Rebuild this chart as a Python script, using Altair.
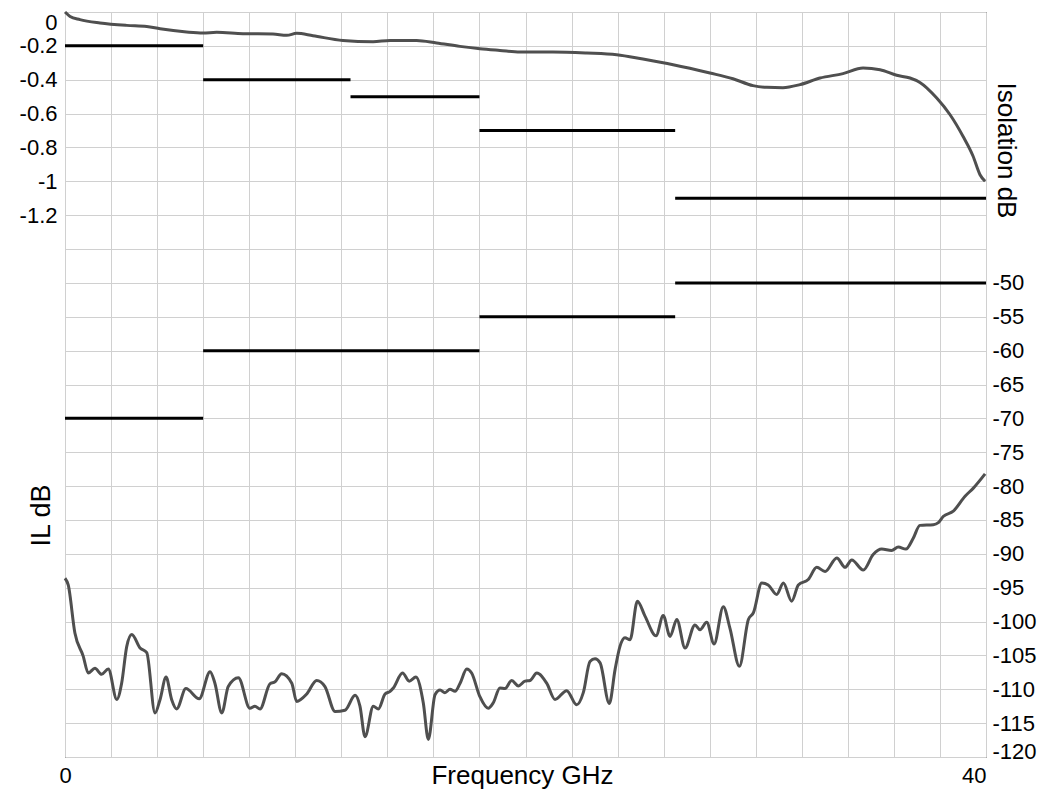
import altair as alt
import pandas as pd

# ---- Insertion loss (left axis, dB) ----
il_freq = [0.0, 0.22, 0.65, 1.52, 2.68, 3.55, 4.13, 5.28, 5.99, 6.59, 7.73, 9.03, 9.63,
           10.06, 10.77, 12.07, 13.38, 14.12, 15.27, 16.14, 17.15, 18.02, 18.89, 19.76,
           21.19, 22.66, 23.96, 25.10, 26.41, 28.01, 29.01, 29.88, 30.48, 31.18, 31.92,
           32.79, 33.79, 34.66, 35.40, 36.12, 36.70, 37.13, 37.86, 38.44, 39.00, 39.44,
           39.74, 39.96]
il_db = [0.000, -0.026, -0.045, -0.065, -0.079, -0.085, -0.099, -0.118, -0.124, -0.120,
         -0.128, -0.130, -0.138, -0.126, -0.140, -0.168, -0.175, -0.168, -0.168, -0.183,
         -0.203, -0.217, -0.227, -0.236, -0.236, -0.242, -0.252, -0.278, -0.311, -0.360,
         -0.394, -0.435, -0.445, -0.447, -0.429, -0.390, -0.364, -0.331, -0.341, -0.374,
         -0.390, -0.416, -0.508, -0.607, -0.734, -0.852, -0.961, -1.000]

# ---- Isolation (right axis, dB) ----
iso_freq = [0.00, 0.14, 0.43, 0.79, 1.01, 1.30, 1.59, 1.88, 2.25, 2.46, 2.68, 2.90, 3.26,
            3.55, 3.91, 4.13, 4.39, 4.63, 4.85, 5.25, 5.83, 6.30, 6.51, 6.81, 7.09, 7.53,
            8.03, 8.25, 8.47, 8.90, 9.12, 9.41, 9.85, 10.06, 10.50, 10.93, 11.29, 11.73,
            12.16, 12.60, 12.81, 13.03, 13.39, 13.61, 13.90, 14.12, 14.26, 14.66, 14.95,
            15.24, 15.56, 15.78, 16.07, 16.29, 16.50, 16.72, 16.94, 17.16, 17.45, 17.66,
            18.02, 18.38, 18.60, 18.89, 19.11, 19.40, 19.69, 19.98, 20.20, 20.49, 20.92,
            21.28, 21.79, 22.22, 22.51, 22.80, 23.02, 23.24, 23.64, 23.89, 24.10, 24.32,
            24.54, 24.86, 25.19, 25.67, 25.98, 26.28, 26.57, 26.93, 27.36, 27.58, 27.87,
            28.19, 28.59, 28.88, 29.29, 29.68, 29.90, 30.26, 30.54, 30.91, 31.20, 31.56,
            31.85, 32.28, 32.65, 33.01, 33.52, 33.88, 34.17, 34.67, 35.10, 35.47, 35.90,
            36.19, 36.52, 36.84, 37.13, 37.71, 37.93, 38.14, 38.58, 39.09, 39.45, 39.96]
iso_db = [-93.6, -94.6, -101.7, -105.1, -107.6, -106.9, -107.8, -107.0, -111.5, -109.1,
          -103.7, -101.9, -103.9, -104.6, -113.5, -111.5, -108.2, -111.5, -112.9, -109.9,
          -111.4, -107.4, -109.1, -113.5, -109.6, -108.3, -112.8, -112.5, -112.9, -109.2,
          -108.9, -107.7, -109.1, -111.8, -110.7, -108.7, -109.6, -113.3, -113.1, -110.9,
          -112.5, -117.0, -112.5, -112.9, -110.7, -110.3, -109.8, -107.6, -108.8, -108.2,
          -112.0, -117.4, -110.8, -110.1, -110.5, -110.0, -110.3, -109.1, -107.0, -107.6,
          -111.1, -112.8, -112.0, -109.8, -109.9, -108.7, -109.5, -108.8, -108.7, -107.6,
          -109.1, -111.5, -110.2, -112.3, -110.5, -105.9, -105.5, -106.1, -112.1, -107.1,
          -103.7, -102.4, -102.7, -97.0, -99.2, -102.1, -99.1, -102.2, -99.7, -103.9,
          -100.5, -101.2, -100.1, -103.3, -97.8, -101.0, -106.6, -99.7, -98.7, -94.3,
          -94.6, -96.0, -94.3, -97.0, -94.6, -93.8, -92.0, -92.6, -90.6, -92.0, -90.9,
          -92.4, -90.1, -89.3, -89.5, -89.0, -89.3, -87.7, -85.8, -85.7, -85.4, -84.5,
          -83.7, -81.5, -80.3, -78.2]

# ---- Specification limits ----
il_spec_start = [0, 6, 12.4, 18, 26.5]
il_spec_end = [6, 12.4, 18, 26.5, 40]
il_spec_db = [-0.2, -0.4, -0.5, -0.7, -1.1]

iso_spec_start = [0, 6, 18, 26.5]
iso_spec_end = [6, 18, 26.5, 40]
iso_spec_db = [-70, -60, -55, -50]

# ---- Axis tick values ----
x_ticks = list(range(0, 41, 2))
il_ticks = [round(-0.2 * i, 1) for i in range(23)]
iso_ticks = list(range(-10, -121, -5))

FONT = "Liberation Sans"
CURVE = "#4f4f4f"
GRID = "#d0d0d0"
LABEL_SIZE = 22

il_df = pd.DataFrame({"f": il_freq, "db": il_db})
iso_df = pd.DataFrame({"f": iso_freq, "db": iso_db})
il_spec_df = pd.DataFrame({"start": il_spec_start, "end": il_spec_end, "db": il_spec_db})
iso_spec_df = pd.DataFrame({"start": iso_spec_start, "end": iso_spec_end, "db": iso_spec_db})

x_scale = alt.Scale(domain=[0, 40], nice=False, zero=False)
x_axis = alt.Axis(
    values=x_ticks,
    labelExpr="datum.value == 0 || datum.value == 40 ? datum.label : ''",
    labelAlign=alt.condition("datum.value == 40", alt.value("right"), alt.value("center")),
    ticks=False, domain=False, grid=True, gridColor=GRID, gridWidth=1,
    labelFont=FONT, labelFontSize=LABEL_SIZE, labelColor="black", labelPadding=8,
    title="Frequency GHz", titleFont=FONT, titleFontSize=26, titleFontWeight="normal",
    titleColor="black", titleX=457, titleY=5, titleBaseline="top",
)

left_axis = alt.Axis(
    values=il_ticks,
    labelExpr="datum.value >= -1.25 ? (datum.value == 0 ? '0' : '-' + format(-datum.value, '~g')) : ''",
    ticks=False, domain=False, grid=True, gridColor=GRID, gridWidth=1,
    labelFont=FONT, labelFontSize=LABEL_SIZE, labelColor="black", labelPadding=8, labelFlush=True,
    title="IL dB", titleFont=FONT, titleFontSize=27, titleFontWeight="normal",
    titleColor="black", titleX=-10, titleY=503,
)

right_axis = alt.Axis(
    orient="right",
    values=iso_ticks,
    labelExpr="datum.value <= -49 ? '-' + format(-datum.value, 'd') : ''",
    ticks=False, domain=False, grid=False,
    labelFont=FONT, labelFontSize=LABEL_SIZE, labelColor="black", labelPadding=6,
    labelFlush=True, labelFlushOffset=6,
    title="Isolation dB", titleFont=FONT, titleFontSize=26, titleFontWeight="normal",
    titleColor="black", titleX=6, titleY=138,
)

y_left = alt.Y("db:Q", scale=alt.Scale(domain=[-4.4, 0], nice=False, zero=False), axis=left_axis)
y_right = alt.Y("db:Q", scale=alt.Scale(domain=[-120, -10], nice=False, zero=False), axis=right_axis)

il_line = alt.Chart(il_df).mark_line(color=CURVE, strokeWidth=3, interpolate="monotone").encode(
    x=alt.X("f:Q", scale=x_scale, axis=x_axis), y=y_left)
il_spec = alt.Chart(il_spec_df).mark_rule(color="black", strokeWidth=3).encode(
    x=alt.X("start:Q", scale=x_scale, axis=x_axis), x2="end:Q", y=y_left)

iso_line = alt.Chart(iso_df).mark_line(color=CURVE, strokeWidth=3, interpolate="monotone").encode(
    x=alt.X("f:Q", scale=x_scale, axis=x_axis), y=y_right)
iso_spec = alt.Chart(iso_spec_df).mark_rule(color="black", strokeWidth=3).encode(
    x=alt.X("start:Q", scale=x_scale, axis=x_axis), x2="end:Q", y=y_right)

left = alt.layer(il_line, il_spec)
right = alt.layer(iso_line, iso_spec)

chart = (
    alt.layer(left, right)
    .resolve_scale(y="independent")
    .properties(
        width=921, height=745,
        autosize=alt.AutoSizeParams(type="none"),
        padding={"left": 57, "top": 4, "right": 70, "bottom": 33},
        background="white",
    )
    .configure_view(stroke="black", strokeWidth=1)
)

chart.save("out.html", embed_options={"renderer": "svg", "actions": False})
